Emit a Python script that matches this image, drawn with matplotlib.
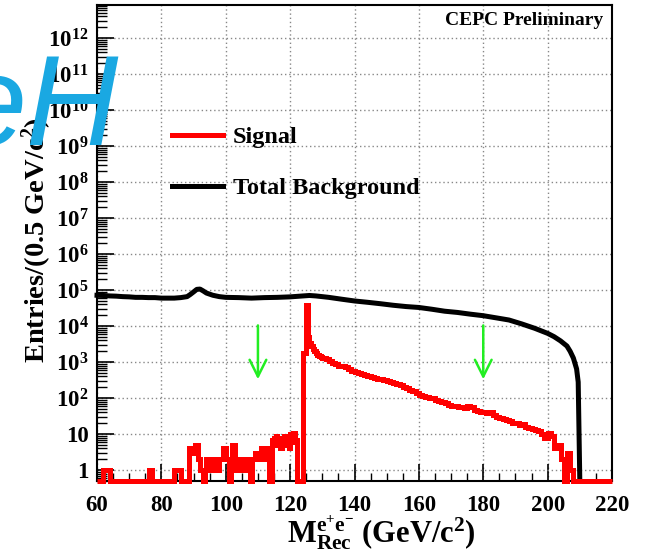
import numpy as np
import matplotlib
matplotlib.use("Agg")
import matplotlib.pyplot as plt
from matplotlib.ticker import FixedLocator, FixedFormatter, LogLocator, MultipleLocator, NullFormatter

plt.rcParams['font.family'] = ['Liberation Serif', 'DejaVu Serif']
plt.rcParams['font.weight'] = 'bold'
plt.rcParams['mathtext.fontset'] = 'custom'
plt.rcParams['mathtext.rm'] = 'Liberation Serif:bold'
plt.rcParams['mathtext.it'] = 'Liberation Serif:italic:bold'
plt.rcParams['mathtext.bf'] = 'Liberation Serif:bold'

# ---------------- data ----------------
# Total background (entries per 0.5 GeV) vs recoil mass
bkg_x = [60, 62, 64, 66, 68, 70, 72, 74, 76, 78, 80, 82, 84, 86, 88, 89, 90, 91, 92, 93,
         94, 96, 98, 100, 104, 108, 112, 116, 120, 124, 126, 128, 132, 136, 140, 144, 148,
         152, 156, 160, 164, 168, 172, 176, 180, 184, 188, 192, 196, 200, 202, 204, 206,
         207, 208, 209, 209.5, 210]
bkg_y = [7.2e4, 7.1e4, 6.9e4, 6.8e4, 6.6e4, 6.5e4, 6.3e4, 6.3e4, 6.2e4, 6.2e4, 6.0e4,
         6.0e4, 6.0e4, 6.2e4, 6.6e4, 7.6e4, 8.9e4, 1.05e5, 1.07e5, 9.5e4, 8.3e4, 7.2e4,
         6.6e4, 6.3e4, 6.2e4, 6.0e4, 6.2e4, 6.3e4, 6.5e4, 6.9e4, 7.1e4, 6.9e4, 6.3e4,
         5.6e4, 5.0e4, 4.6e4, 4.2e4, 3.8e4, 3.5e4, 3.3e4, 2.95e4, 2.6e4, 2.4e4, 2.15e4,
         1.95e4, 1.7e4, 1.48e4, 1.15e4, 8.7e3, 6.3e3, 5.1e3, 3.9e3, 2.8e3, 2.0e3, 1.3e3,
         6.5e2, 2.8e2, 0.0]

# Signal histogram: bin edges and counts
sig_edges = np.concatenate([np.arange(60, 86, 1.0), np.arange(86, 130, 0.5),
                            np.arange(130, 220.5, 1.0)])
sig_counts_low = [  # 60 - 85, 1 GeV bins
    0, 0, 1, 1, 0, 0, 0, 0, 0, 0, 0, 0, 0, 0, 0, 0, 1, 0, 0, 0,
    0, 0, 0, 0, 1, 1,
]
sig_counts_mid = [  # 86 - 129.5, 0.5 GeV bins (two per GeV)
    0, 0, 0, 0, 0, 4, 4, 3, 4, 5, 5, 2, 1, 1, 0, 1, 2, 2, 1, 2,
    1, 2, 2, 1, 2, 2, 4, 4, 2, 2, 0, 1, 5, 5, 2, 1, 1, 2, 1, 2,
    2, 2, 1, 0, 2, 2, 3, 2, 3, 2, 4, 3, 2, 4, 4, 0, 0, 7, 8, 9,
    5, 6, 4, 8, 9, 5, 7, 4, 10, 6, 11, 7, 0, 0, 0, 0,
    1800, 1800, 38000, 5000, 3500, 2800, 2300, 2000, 1800, 1600, 1500, 1400,
]
sig_counts_high = [  # 130 - 219, 1 GeV bins
    1300, 1200, 1050, 950, 870, 800, 760, 720, 650, 580, 540, 500, 470, 440, 420, 390,
    370, 350, 330, 320, 300, 280, 260, 250, 230, 210, 190, 170, 155, 140, 125, 118,
    110, 102, 98, 90, 82, 78, 72, 66, 62, 60, 56, 58, 52, 60, 55, 48, 44, 40, 42, 38,
    40, 34, 30, 29, 26, 24, 23, 21, 20, 18, 19, 16, 15, 14, 13, 12, 10, 8, 11, 9, 4,
    5, 2, 0, 3, 1, 0, 0, 0, 0, 0, 0, 0, 0, 0, 0, 0, 0,
]
sig_counts = sig_counts_low + sig_counts_mid + sig_counts_high

cut_values = [110, 180]
y_major = [1, 10, 1e2, 1e3, 1e4, 1e5, 1e6, 1e7, 1e8, 1e9, 1e10, 1e11, 1e12]
y_labels = ['1', '10'] + [r'$\mathrm{10^{%d}}$' % k for k in range(2, 13)]
x_major = [60, 80, 100, 120, 140, 160, 180, 200, 220]

# ---------------- figure ----------------
YMIN, YMAX = 0.5, 8.3e12
fig = plt.figure(figsize=(6.48, 5.56), dpi=100)
ax = fig.add_axes([97 / 648, 1 - 481 / 556, (612 - 97) / 648, (481 - 5) / 556])
ax.set_yscale('log')
ax.set_xlim(60, 220)
ax.set_ylim(YMIN, YMAX)

counts = np.asarray(sig_counts, dtype=float)
sig_plot = np.where(counts > 0, counts, YMIN)
sig_line = ax.stairs(sig_plot, sig_edges, baseline=None, color='#ff0000', lw=3.6,
                     clip_on=False, zorder=4, label='Signal')

bky = np.asarray(bkg_y, dtype=float)
bkg_line, = ax.plot(bkg_x, np.where(bky > 0, bky, YMIN), color='black', lw=3.6,
                    solid_joinstyle='round', zorder=3, clip_on=False, label='Total Background')

for xc in cut_values:
    ax.annotate('', xy=(xc, 280), xytext=(xc, 1.25e4),
                arrowprops=dict(arrowstyle='->,head_length=0.6,head_width=0.3',
                                color='#22ee22', lw=1.8, mutation_scale=20),
                zorder=5)

# ticks and grid
ax.xaxis.set_major_locator(FixedLocator(x_major))
ax.xaxis.set_minor_locator(MultipleLocator(5))
ax.yaxis.set_major_locator(FixedLocator(y_major))
ax.yaxis.set_major_formatter(FixedFormatter(y_labels))
ax.yaxis.set_minor_locator(LogLocator(base=10, subs=np.arange(2, 10), numticks=50))
ax.yaxis.set_minor_formatter(NullFormatter())
ax.tick_params(which='both', direction='in', top=False, right=False, colors='black')
ax.tick_params(axis='x', which='major', length=12, width=1.2, labelsize=16.5, pad=10)
ax.tick_params(axis='x', which='minor', length=6, width=1.0)
ax.tick_params(axis='y', which='major', length=12, width=1.2, labelsize=16.5, pad=6)
ax.tick_params(axis='y', which='minor', length=7, width=1.0)
for lab in ax.get_xticklabels() + ax.get_yticklabels():
    lab.set_fontweight('bold')
ax.grid(True, which='major', color='#888888', linestyle=(0, (1, 2)), lw=1.0)
for sp in ax.spines.values():
    sp.set_linewidth(1.5)
    sp.set_color('black')

# axis titles
fig.text(37 / 648, 1 - 240 / 556, r'Entries/(0.5 GeV/c$^{2}$)', rotation=90,
         ha='center', va='center', fontsize=20.5, fontweight='bold')
fig.text(381 / 648, 1 - 533 / 556,
         r'$\mathrm{M}^{\mathrm{e^{+}e^{-}}}_{\mathrm{Rec}}$ (GeV/c$^{2}$)',
         ha='center', va='center', fontsize=22, fontweight='bold')

ax.text(0.982, 0.985, 'CEPC Preliminary', transform=ax.transAxes, ha='right', va='top',
        fontsize=14, fontweight='bold')

leg = ax.legend(handles=[sig_line, bkg_line], loc='upper left',
                bbox_to_anchor=(155 / 648, 1 - 109 / 556), bbox_transform=fig.transFigure,
                frameon=False, fontsize=17.5, handlelength=2.1, handletextpad=0.4,
                labelspacing=1.2, borderpad=0.2)
for t in leg.get_texts():
    t.set_fontweight('bold')
for h in leg.legend_handles:
    h.set_linewidth(3.6)

fig.text(-44 / 648, 1 - 145 / 556, 'eH', ha='left', va='baseline', fontsize=92,
         style='italic', family=['Liberation Sans', 'DejaVu Sans'], fontweight='normal',
         color='#1aa8e2', zorder=10)

fig.savefig('out.png', dpi=100)
